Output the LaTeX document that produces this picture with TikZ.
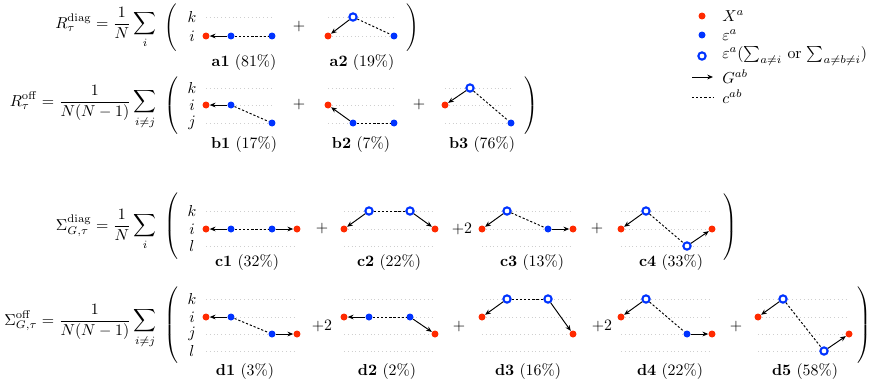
\documentclass[tikz,border=0pt]{standalone}
\usepackage{amsmath}
\usetikzlibrary{arrows.meta}
\definecolor{xred}{HTML}{FF2A00}
\definecolor{eblue}{HTML}{0033FF}
\definecolor{guidegray}{HTML}{CFCFCF}
\newcommand{\parl}[1]{$\delimitershortfall=0pt\delimiterfactor=1000\left(\vcenter{\hbox{\rule{0pt}{#1}}}\right.$}
\newcommand{\parr}[1]{$\delimitershortfall=0pt\delimiterfactor=1000\left.\vcenter{\hbox{\rule{0pt}{#1}}}\right)$}

\begin{document}
\begin{tikzpicture}[
      x=0.63pt, y=-0.63pt,
      xdot/.style={circle, fill=xred, inner sep=0pt, minimum size=4.4pt},
      edot/.style={circle, fill=eblue, inner sep=0pt, minimum size=4.4pt},
      odot/.style={circle, draw=eblue, fill=white, line width=1.3pt,
                   inner sep=0pt, minimum size=4.6pt},
      garrow/.style={-{Stealth[length=3.6pt,width=3pt]}, line width=0.6pt},
      cline/.style={dash pattern=on 1.4pt off 1.2pt, line width=0.6pt},
      guide/.style={guidegray, dotted, line width=0.4pt},
      axl/.style={inner sep=0pt},
      lab/.style={inner sep=0pt},
      eqn/.style={anchor=base east, inner sep=0pt},
      leg/.style={anchor=west, inner sep=0pt},
    ]
      \useasboundingbox (0,0) rectangle (872,385);

      % guide lines
      \foreach \x in {206,328} \foreach \y in {17,36}
        \draw[guide] (\x,\y) -- ++(66,0);
      \foreach \x in {206,328,445} \foreach \y in {88,105,123}
        \draw[guide] (\x,\y) -- ++(66,0);
      \foreach \x in {206,344,482,621} \foreach \y in {211,229,246}
        \draw[guide] (\x,\y) -- ++(91,0);
      \foreach \x in {206,344,482,621,758} \foreach \y in {299,317,334,351}
        \draw[guide] (\x,\y) -- ++(91,0);

      % equations
      \node[eqn] (eqa) at (157,28) {$\displaystyle R_\tau^{\mathrm{diag}} = \frac{1}{N}\sum_{i}$};
      \node[eqn] (eqb) at (157,106) {$\displaystyle R_\tau^{\mathrm{off}} = \frac{1}{N(N-1)}\sum_{i\neq j}$};
      \node[eqn] (eqc) at (157,230) {$\displaystyle \Sigma_{G,\tau}^{\mathrm{diag}} = \frac{1}{N}\sum_{i}$};
      \node[eqn] (eqd) at (157,325) {$\displaystyle \Sigma_{G,\tau}^{\mathrm{off}} = \frac{1}{N(N-1)}\sum_{i\neq j}$};

      % brackets
      \node[inner sep=0pt] (pal) at (172,28) {\parl{28pt}};
      \node[inner sep=0pt] (par) at (412,28) {\parr{28pt}};
      \node[inner sep=0pt] (pbl) at (172,105.5) {\parl{35pt}};
      \node[inner sep=0pt] (pbr) at (530,105.5) {\parr{35pt}};
      \node[inner sep=0pt] (pcl) at (172,226) {\parl{40pt}};
      \node[inner sep=0pt] (pcr) at (729,227) {\parr{40pt}};
      \node[inner sep=0pt] (pdl) at (172,325) {\parl{44pt}};
      \node[inner sep=0pt] (pdr) at (863,325) {\parr{44pt}};

      % axis letters
      \node[axl] (ak) at (192,17) {$k$};
      \node[axl] (ai) at (192,36) {$i$};
      \node[axl] (bk) at (192,88) {$k$};
      \node[axl] (bi) at (192,105) {$i$};
      \node[axl] (bj) at (192,123) {$j$};
      \node[axl] (ck) at (192,211) {$k$};
      \node[axl] (ci) at (192,229) {$i$};
      \node[axl] (cl) at (192,246) {$l$};
      \node[axl] (dk) at (192,299) {$k$};
      \node[axl] (di) at (192,317) {$i$};
      \node[axl] (dj) at (192,334) {$j$};
      \node[axl] (dl) at (192,351) {$l$};

      % plus signs
      \node (pa1) at (299,27) {$+$};
      \node (pb1) at (299,105) {$+$};
      \node (pb2) at (419,105) {$+$};
      \node (pc1) at (322,229) {$+$};
      \node (pc2) at (462,229) {$+2$};
      \node (pc3) at (597,229) {$+$};
      \node (pd1) at (322,326) {$+2$};
      \node (pd2) at (459,327) {$+$};
      \node (pd3) at (602,326) {$+2$};
      \node (pd4) at (736,327) {$+$};

      % row a
      \node[xdot] (a1n0) at (206,36) {};
      \node[edot] (a1n1) at (231,36) {};
      \node[edot] (a1n2) at (272,36) {};
      \node[xdot] (a2n0) at (328,36) {};
      \node[odot] (a2n1) at (353,17) {};
      \node[edot] (a2n2) at (394,36) {};

      % row b
      \node[xdot] (b1n0) at (206,105) {};
      \node[edot] (b1n1) at (231,105) {};
      \node[edot] (b1n2) at (272,123) {};
      \node[xdot] (b2n0) at (328,105) {};
      \node[edot] (b2n1) at (353,123) {};
      \node[edot] (b2n2) at (394,123) {};
      \node[xdot] (b3n0) at (445,105) {};
      \node[odot] (b3n1) at (470,88) {};
      \node[edot] (b3n2) at (511,123) {};

      % row c
      \node[xdot] (c1n0) at (206,229) {};
      \node[edot] (c1n1) at (231,229) {};
      \node[edot] (c1n2) at (272,229) {};
      \node[xdot] (c1n3) at (297,229) {};
      \node[xdot] (c2n0) at (344,229) {};
      \node[odot] (c2n1) at (369,211) {};
      \node[odot] (c2n2) at (410,211) {};
      \node[xdot] (c2n3) at (435,229) {};
      \node[xdot] (c3n0) at (482,229) {};
      \node[odot] (c3n1) at (507,211) {};
      \node[edot] (c3n2) at (548,229) {};
      \node[xdot] (c3n3) at (573,229) {};
      \node[xdot] (c4n0) at (621,229) {};
      \node[odot] (c4n1) at (646,211) {};
      \node[odot] (c4n2) at (687,246) {};
      \node[xdot] (c4n3) at (712,229) {};

      % row d
      \node[xdot] (d1n0) at (206,317) {};
      \node[edot] (d1n1) at (231,317) {};
      \node[edot] (d1n2) at (272,334) {};
      \node[xdot] (d1n3) at (297,334) {};
      \node[xdot] (d2n0) at (344,317) {};
      \node[edot] (d2n1) at (369,317) {};
      \node[edot] (d2n2) at (410,317) {};
      \node[xdot] (d2n3) at (435,334) {};
      \node[xdot] (d3n0) at (482,317) {};
      \node[odot] (d3n1) at (507,299) {};
      \node[odot] (d3n2) at (548,299) {};
      \node[xdot] (d3n3) at (573,334) {};
      \node[xdot] (d4n0) at (621,317) {};
      \node[odot] (d4n1) at (646,299) {};
      \node[edot] (d4n2) at (687,334) {};
      \node[xdot] (d4n3) at (712,334) {};
      \node[xdot] (d5n0) at (758,317) {};
      \node[odot] (d5n1) at (783,299) {};
      \node[odot] (d5n2) at (824,351) {};
      \node[xdot] (d5n3) at (849,334) {};

      % G arrows
      \draw[garrow] (a1n1) -- (a1n0);
      \draw[garrow] (a2n1) -- (a2n0);
      \draw[garrow] (b1n1) -- (b1n0);
      \draw[garrow] (b2n1) -- (b2n0);
      \draw[garrow] (b3n1) -- (b3n0);
      \draw[garrow] (c1n1) -- (c1n0);
      \draw[garrow] (c1n2) -- (c1n3);
      \draw[garrow] (c2n1) -- (c2n0);
      \draw[garrow] (c2n2) -- (c2n3);
      \draw[garrow] (c3n1) -- (c3n0);
      \draw[garrow] (c3n2) -- (c3n3);
      \draw[garrow] (c4n1) -- (c4n0);
      \draw[garrow] (c4n2) -- (c4n3);
      \draw[garrow] (d1n1) -- (d1n0);
      \draw[garrow] (d1n2) -- (d1n3);
      \draw[garrow] (d2n1) -- (d2n0);
      \draw[garrow] (d2n2) -- (d2n3);
      \draw[garrow] (d3n1) -- (d3n0);
      \draw[garrow] (d3n2) -- (d3n3);
      \draw[garrow] (d4n1) -- (d4n0);
      \draw[garrow] (d4n2) -- (d4n3);
      \draw[garrow] (d5n1) -- (d5n0);
      \draw[garrow] (d5n2) -- (d5n3);

      % c lines
      \draw[cline] (a1n1) -- (a1n2);
      \draw[cline] (a2n1) -- (a2n2);
      \draw[cline] (b1n1) -- (b1n2);
      \draw[cline] (b2n1) -- (b2n2);
      \draw[cline] (b3n1) -- (b3n2);
      \draw[cline] (c1n1) -- (c1n2);
      \draw[cline] (c2n1) -- (c2n2);
      \draw[cline] (c3n1) -- (c3n2);
      \draw[cline] (c4n1) -- (c4n2);
      \draw[cline] (d1n1) -- (d1n2);
      \draw[cline] (d2n1) -- (d2n2);
      \draw[cline] (d3n1) -- (d3n2);
      \draw[cline] (d4n1) -- (d4n2);
      \draw[cline] (d5n1) -- (d5n2);

      % labels
      \node[lab] (la1) at (244,63) {\textbf{a1} (81\%)};
      \node[lab] (la2) at (362,63) {\textbf{a2} (19\%)};
      \node[lab] (lb1) at (244,145) {\textbf{b1} (17\%)};
      \node[lab] (lb2) at (361,145) {\textbf{b2} (7\%)};
      \node[lab] (lb3) at (482,145) {\textbf{b3} (76\%)};
      \node[lab] (lc1) at (247,263) {\textbf{c1} (32\%)};
      \node[lab] (lc2) at (389,263) {\textbf{c2} (22\%)};
      \node[lab] (lc3) at (532,263) {\textbf{c3} (13\%)};
      \node[lab] (lc4) at (671,263) {\textbf{c4} (33\%)};
      \node[lab] (ld1) at (245,372) {\textbf{d1} (3\%)};
      \node[lab] (ld2) at (387,372) {\textbf{d2} (2\%)};
      \node[lab] (ld3) at (528,372) {\textbf{d3} (16\%)};
      \node[lab] (ld4) at (670,372) {\textbf{d4} (22\%)};
      \node[lab] (ld5) at (805,372) {\textbf{d5} (58\%)};

      % legend
      \node[xdot] (lx) at (702,16) {};
      \node[edot] (le) at (702,35) {};
      \node[odot] (lo) at (702,56) {};
      \coordinate (lg0) at (692,77);
      \coordinate (lg1) at (713,77);
      \coordinate (lc0) at (692,97);
      \coordinate (lc1) at (713,97);
      \draw[garrow] (lg0) -- (lg1);
      \draw[cline] (lc0) -- (lc1);
      \node[leg] (tx) at (722,16) {$X^a$};
      \node[leg] (te) at (722,35) {$\varepsilon^a$};
      \node[leg] (to) at (722,56) {$\varepsilon^a(\sum_{a\neq i}$ or $\sum_{a\neq b\neq i})$};
      \node[leg] (tg) at (722,77) {$G^{ab}$};
      \node[leg] (tc) at (722,97) {$c^{ab}$};
    \end{tikzpicture}
\end{document}
